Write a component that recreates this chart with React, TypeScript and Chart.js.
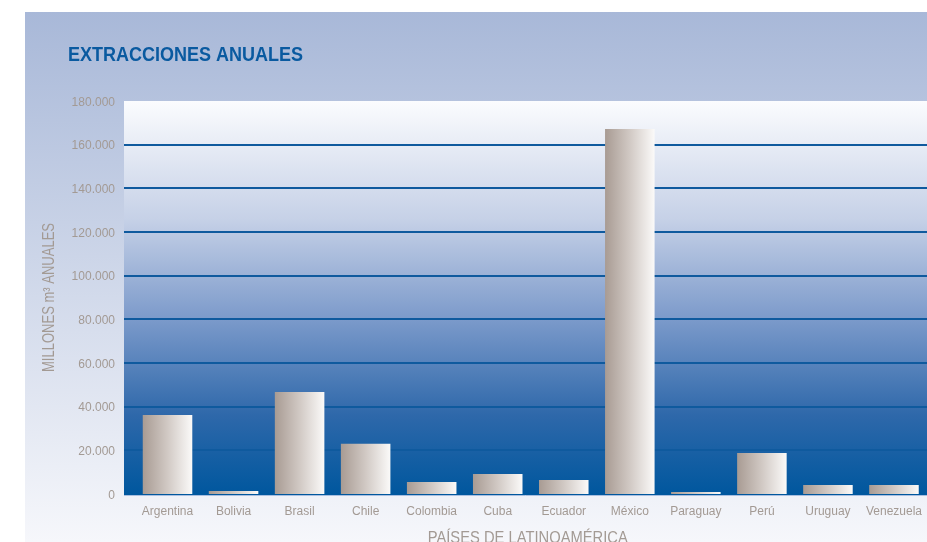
import React, { useEffect, useRef } from "react";
import { Chart, registerables } from "chart.js";

Chart.register(...registerables);

const categories = [
  "Argentina", "Bolivia", "Brasil", "Chile", "Colombia", "Cuba",
  "Ecuador", "México", "Paraguay", "Perú", "Uruguay", "Venezuela",
];
const extracciones = [36200, 1400, 46700, 23000, 5500, 9200, 6400, 167200, 900, 18800, 4100, 4100];
const yMax = 180000;
const yStep = 20000;
const chartTitle = "EXTRACCIONES ANUALES";
const yTitle = "MILLONES m³ ANUALES";
const xTitle = "PAÍSES DE LATINOAMÉRICA";

const TICK_COLOR = "#a39a94";
const FONT = "'Liberation Sans', Arial, sans-serif";
const fmt = (v: number) => String(v).replace(/\B(?=(\d{3})+(?!\d))/g, ".");

function squeezedText(ctx: any, text: string, x: number, y: number, sx: number, rot: number, align: CanvasTextAlign) {
  ctx.save();
  ctx.translate(x, y);
  ctx.rotate(rot);
  ctx.scale(sx, 1);
  ctx.textAlign = align;
  ctx.fillText(text, 0, 0);
  ctx.restore();
}

const backgroundPlugin = {
  id: "bgPlugin",
  beforeDraw(chart: any) {
    const { ctx, width, height } = chart;
    ctx.save();
    const g = ctx.createLinearGradient(0, 12, 0, height);
    g.addColorStop(0, "#a8b8d8");
    g.addColorStop(1, "#f6f7fb");
    ctx.fillStyle = g;
    ctx.fillRect(25, 12, width - 25, height - 12);
    ctx.restore();
  },
  beforeDatasetsDraw(chart: any) {
    const { ctx, chartArea } = chart;
    const y = chart.scales.y;
    const left = chartArea.left - 10.5;
    const right = chartArea.right;
    ctx.save();
    const g = ctx.createLinearGradient(0, chartArea.top, 0, chartArea.bottom);
    g.addColorStop(0, "#fbfcfe");
    g.addColorStop(0.3, "#c6d1e7");
    g.addColorStop(0.55, "#7d9bcb");
    g.addColorStop(0.8, "#2e68aa");
    g.addColorStop(1, "#00579e");
    ctx.fillStyle = g;
    ctx.fillRect(left, chartArea.top, right - left, chartArea.bottom - chartArea.top + 1);
    ctx.strokeStyle = "#0f5a9e";
    ctx.lineWidth = 2;
    for (let v = yStep; v < yMax; v += yStep) {
      const py = Math.round(y.getPixelForValue(v));
      ctx.beginPath();
      ctx.moveTo(left, py);
      ctx.lineTo(right, py);
      ctx.stroke();
    }
    ctx.strokeStyle = "#a9bfe0";
    ctx.lineWidth = 1;
    const pb = Math.round(y.getPixelForValue(0)) + 1.5;
    ctx.beginPath();
    ctx.moveTo(left, pb);
    ctx.lineTo(right, pb);
    ctx.stroke();
    ctx.restore();
  },
  afterDraw(chart: any) {
    const { ctx, chartArea } = chart;
    ctx.save();
    ctx.textBaseline = "alphabetic";
    ctx.fillStyle = "#0a5aa0";
    ctx.font = `bold 20px ${FONT}`;
    squeezedText(ctx, chartTitle, 68, 61, 0.9, 0, "left");
    ctx.fillStyle = TICK_COLOR;
    ctx.font = `16px ${FONT}`;
    const yMid = (chartArea.top + chartArea.bottom) / 2;
    squeezedText(ctx, yTitle, 54, yMid, 0.814, -Math.PI / 2, "center");
    ctx.font = `17px ${FONT}`;
    const xMid = (chartArea.left + chartArea.right) / 2 - 3;
    squeezedText(ctx, xTitle, xMid, 543, 0.867, 0, "center");
    ctx.restore();
  },
};

export default function App() {
  const ref = useRef<HTMLCanvasElement | null>(null);
  useEffect(() => {
    if (!ref.current) return;
    const barPct = 0.75;
    const chart = new Chart(ref.current, {
      type: "bar",
      data: {
        labels: categories,
        datasets: [
          {
            data: extracciones,
            borderWidth: 0,
            backgroundColor: (c: any) => {
              const ch = c.chart;
              const xs = ch.scales?.x;
              if (!ch.chartArea || !xs || c.dataIndex === undefined) return "#d0c8c3";
              const cx = xs.getPixelForValue(c.dataIndex);
              const hw = (xs.width / categories.length) * barPct / 2;
              const g = ch.ctx.createLinearGradient(cx - hw, 0, cx + hw, 0);
              g.addColorStop(0, "#a89b93");
              g.addColorStop(0.5, "#d1c9c4");
              g.addColorStop(1, "#fbfaf9");
              return g;
            },
            barPercentage: barPct,
            categoryPercentage: 1,
          },
        ],
      },
      options: {
        responsive: false,
        animation: false,
        devicePixelRatio: 1,
        layout: { padding: { top: 101, left: 0, right: 0, bottom: 0 } },
        plugins: { legend: { display: false }, tooltip: { enabled: false } },
        scales: {
          x: {
            grid: { display: false, drawTicks: false },
            border: { display: false },
            ticks: {
              color: TICK_COLOR,
              font: { family: FONT, size: 12 },
              padding: 10,
              maxRotation: 0,
              autoSkip: false,
            },
            afterFit: (s: any) => {
              s.height = 48;
              s.paddingLeft = 0;
              s.paddingRight = 0;
            },
          },
          y: {
            min: 0,
            max: yMax,
            grid: { display: false, drawTicks: false },
            border: { display: false },
            ticks: {
              stepSize: yStep,
              color: TICK_COLOR,
              font: { family: FONT, size: 12 },
              padding: 19.5,
              labelOffset: 1.5,
              callback: (v: any) => fmt(Number(v)),
            },
            afterFit: (s: any) => {
              s.width = 134.5;
              s.paddingTop = 0;
              s.paddingBottom = 0;
            },
          },
        },
      },
      plugins: [backgroundPlugin],
    });
    return () => chart.destroy();
  }, []);
  return (
    <div style={{ position: "fixed", left: 0, top: 0, width: 927, height: 542, background: "#ffffff" }}>
      <canvas ref={ref} width={927} height={542} style={{ display: "block" }} />
    </div>
  );
}
